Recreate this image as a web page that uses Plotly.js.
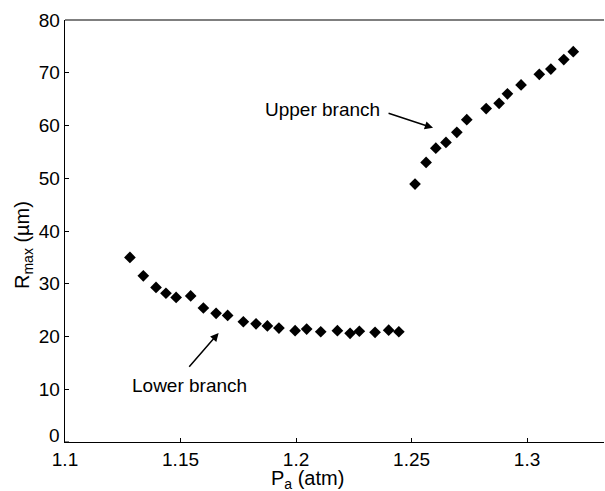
<!DOCTYPE html>
<html>
<head>
<meta charset="utf-8">
<script src="https://cdn.plot.ly/plotly-3.0.1.min.js"></script>
<style>
  html, body { margin: 0; padding: 0; background: #fff; }
  #chart { width: 605px; height: 491px; }
</style>
</head>
<body>
<div id="chart"></div>
<script>
// Maximum bubble radius vs. acoustic pressure amplitude, two solution branches
const lowerPa   = [1.1281, 1.1339, 1.1394, 1.1437, 1.1481, 1.1544, 1.1599, 1.1654, 1.1704, 1.1772, 1.1827,
                   1.1876, 1.1926, 1.1996, 1.2046, 1.2107, 1.2179, 1.2234, 1.2274, 1.2342, 1.2401, 1.2445];
const lowerRmax = [35.0, 31.5, 29.3, 28.2, 27.4, 27.7, 25.4, 24.4, 24.0, 22.8, 22.4,
                   22.0, 21.6, 21.1, 21.4, 20.9, 21.1, 20.6, 21.0, 20.8, 21.2, 20.9];

const upperPa   = [1.2515, 1.2563, 1.2605, 1.2649, 1.2696, 1.2739, 1.2823, 1.2879, 1.2915, 1.2974,
                   1.3053, 1.3103, 1.3159, 1.3200];
const upperRmax = [48.9, 53.0, 55.7, 56.8, 58.7, 61.1, 63.2, 64.2, 66.0, 67.7,
                   69.7, 70.7, 72.5, 74.0];

const xTicks = [1.1, 1.15, 1.2, 1.25, 1.3];
const xTickText = ['1.1', '1.15', '1.2', '1.25', '1.3'];
// the 0 label sits a little above its tick so it clears the 1.1 label
const yTicks = [10, 20, 30, 40, 50, 60, 70, 80];
const yZeroLabel = '0';

const FONT = 'Liberation Sans, Arial, Helvetica, sans-serif';
const SIZE = 19;

const markerStyle = { symbol: 'diamond', size: 9, color: '#000' };

const traces = [
  { x: lowerPa, y: lowerRmax, type: 'scatter', mode: 'markers', name: 'Lower branch',
    marker: markerStyle, cliponaxis: false },
  { x: upperPa, y: upperRmax, type: 'scatter', mode: 'markers', name: 'Upper branch',
    marker: markerStyle, cliponaxis: false }
];

const layout = {
  width: 605, height: 491,
  margin: { l: 65, r: 1, t: 20, b: 49 },
  paper_bgcolor: '#fff', plot_bgcolor: '#fff',
  showlegend: false,
  font: { family: FONT, size: SIZE, color: '#000' },
  xaxis: {
    range: [1.1, 1.3333],
    tickvals: xTicks, ticktext: xTickText,
    ticks: 'inside', ticklen: 4, tickcolor: '#000', tickwidth: 1,
    showline: true, linecolor: '#000', linewidth: 1.3,
    mirror: false, showgrid: false, zeroline: false,
    tickfont: { family: FONT, size: SIZE, color: '#000' }
  },
  yaxis: {
    range: [0, 80],
    tickvals: yTicks,
    ticks: 'inside', ticklen: 4, tickcolor: '#000', tickwidth: 1,
    showline: true, linecolor: '#000', linewidth: 1.3,
    showgrid: false, zeroline: false,
    tickfont: { family: FONT, size: SIZE, color: '#000' }
  },
  shapes: [
    // top frame edge
    { type: 'line', xref: 'paper', yref: 'paper', x0: 0, x1: 1, y0: 1, y1: 1,
      line: { color: '#555', width: 1.3 } },
    // tick at y = 0
    { type: 'line', xref: 'paper', yref: 'y', x0: 0, x1: 0.0075, y0: 0, y1: 0,
      line: { color: '#000', width: 1 } }
  ],
  annotations: [
    // y = 0 tick label
    { xref: 'paper', yref: 'paper', x: -0.006, y: 0.016, showarrow: false,
      xanchor: 'right', yanchor: 'middle',
      text: yZeroLabel, font: { family: FONT, size: SIZE, color: '#000' } },
    // axis titles
    { xref: 'paper', yref: 'paper', x: 0.4508, y: -0.0877, showarrow: false,
      xanchor: 'center', yanchor: 'middle',
      text: 'P<sub>a</sub> (atm)', font: { family: FONT, size: SIZE + 1, color: '#000' } },
    { xref: 'paper', yref: 'paper', x: -0.0779, y: 0.4668, showarrow: false,
      xanchor: 'center', yanchor: 'middle', textangle: -90,
      text: 'R<sub>max</sub> (µm)', font: { family: FONT, size: SIZE + 1, color: '#000' } },
    // branch labels
    { x: 1.2113, y: 62.97, showarrow: false, xanchor: 'center', yanchor: 'middle',
      text: 'Upper branch', font: { family: FONT, size: SIZE, color: '#000' } },
    { x: 1.1537, y: 10.8, showarrow: false, xanchor: 'center', yanchor: 'middle',
      text: 'Lower branch', font: { family: FONT, size: SIZE, color: '#000' } },
    // pointer arrows
    { x: 1.2593, y: 59.55, ax: 1.2394, ay: 62.4, axref: 'x', ayref: 'y',
      text: '', showarrow: true, arrowhead: 2, arrowsize: 1.1, arrowwidth: 1.5, arrowcolor: '#000',
      standoff: 0, startstandoff: 0 },
    { x: 1.1665, y: 20.67, ax: 1.1532, ay: 14.0, axref: 'x', ayref: 'y',
      text: '', showarrow: true, arrowhead: 2, arrowsize: 1.1, arrowwidth: 1.5, arrowcolor: '#000',
      standoff: 0, startstandoff: 0 }
  ]
};

Plotly.newPlot('chart', traces, layout, { staticPlot: true, displayModeBar: false });
</script>
</body>
</html>
